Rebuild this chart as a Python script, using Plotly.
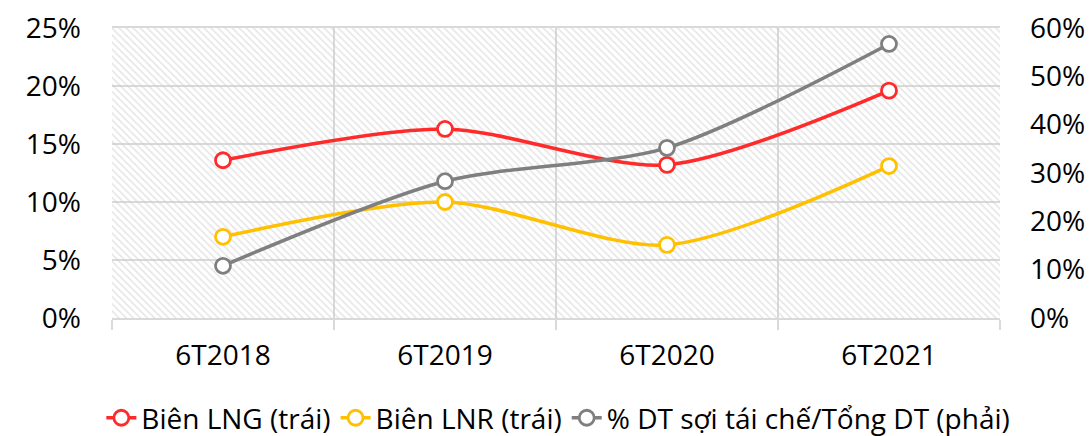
import plotly.graph_objects as go

categories = ["6T2018", "6T2019", "6T2020", "6T2021"]
bien_lng = [0.136, 0.163, 0.132, 0.196]
bien_lnr = [0.070, 0.100, 0.063, 0.131]
dt_soi = [0.108, 0.283, 0.352, 0.567]

left_ticks = [0, 0.05, 0.10, 0.15, 0.20, 0.25]
right_ticks = [0, 0.1, 0.2, 0.3, 0.4, 0.5, 0.6]
left_max = 0.25
right_max = 0.6

FONT = "Open Sans, Liberation Sans, sans-serif"
GRID = "#d9d9d9"

fig = go.Figure()

# hatched plot background (one full-width band per category)
fig.add_trace(go.Bar(
    x=categories, y=[left_max] * len(categories), width=1,
    marker=dict(
        color="rgba(0,0,0,0)", line=dict(width=0),
        pattern=dict(shape="\\", fgcolor="#cccccc", bgcolor="rgba(0,0,0,0)",
                     size=5, solidity=0.32),
    ),
    hoverinfo="skip", showlegend=False,
))

def series(name, vals, color, axis):
    fig.add_trace(go.Scatter(
        x=categories, y=vals, name=name, yaxis=axis,
        mode="lines+markers",
        line=dict(color=color, width=3.5, shape="spline", smoothing=0.8),
        marker=dict(symbol="circle", size=15, color="white", line=dict(color=color, width=2.8)),
    ))

series("Biên LNG (trái)", bien_lng, "#ff2b2b", "y")
series("Biên LNR (trái)", bien_lnr, "#ffc000", "y")
series("% DT sợi tái chế/Tổng DT (phải)", dt_soi, "#7f7f7f", "y2")

fig.update_layout(
    width=1091, height=436,
    margin=dict(l=112, r=91, t=28, b=118, autoexpand=False),
    paper_bgcolor="white", plot_bgcolor="white",
    font=dict(family=FONT, size=28, color="#000000"),
    bargap=0,
    xaxis=dict(
        type="category", range=[-0.5, 3.5], tickson="boundaries",
        showgrid=True, gridcolor=GRID, gridwidth=1.5,
        ticks="outside", ticklen=10, tickcolor=GRID, tickwidth=1.5,
        showline=True, linecolor=GRID, linewidth=1.5, mirror=True,
        tickfont=dict(family=FONT, size=28), ticklabelstandoff=12,
        zeroline=False, automargin=False,
    ),
    yaxis=dict(
        range=[0, left_max], tickvals=left_ticks, tickformat=".0%",
        showgrid=True, gridcolor=GRID, gridwidth=1.5, zeroline=False,
        showline=False, ticks="", ticklabelstandoff=30,
        tickfont=dict(family=FONT, size=28), automargin=False,
    ),
    yaxis2=dict(
        range=[0, right_max], tickvals=right_ticks, tickformat=".0%",
        overlaying="y", side="right", showgrid=False, zeroline=False,
        showline=False, ticks="", ticklabelstandoff=29,
        tickfont=dict(family=FONT, size=28), automargin=False,
    ),
    legend=dict(
        orientation="h", x=-0.012, xanchor="left",
        y=-0.345, yanchor="middle",
        font=dict(family=FONT, size=28),
        tracegroupgap=0, bgcolor="rgba(0,0,0,0)",
    ),
)

fig.write_html(
    "out.html",
    config={"displayModeBar": False},
    post_script="document.body.style.margin='0';document.body.style.padding='0';",
)
